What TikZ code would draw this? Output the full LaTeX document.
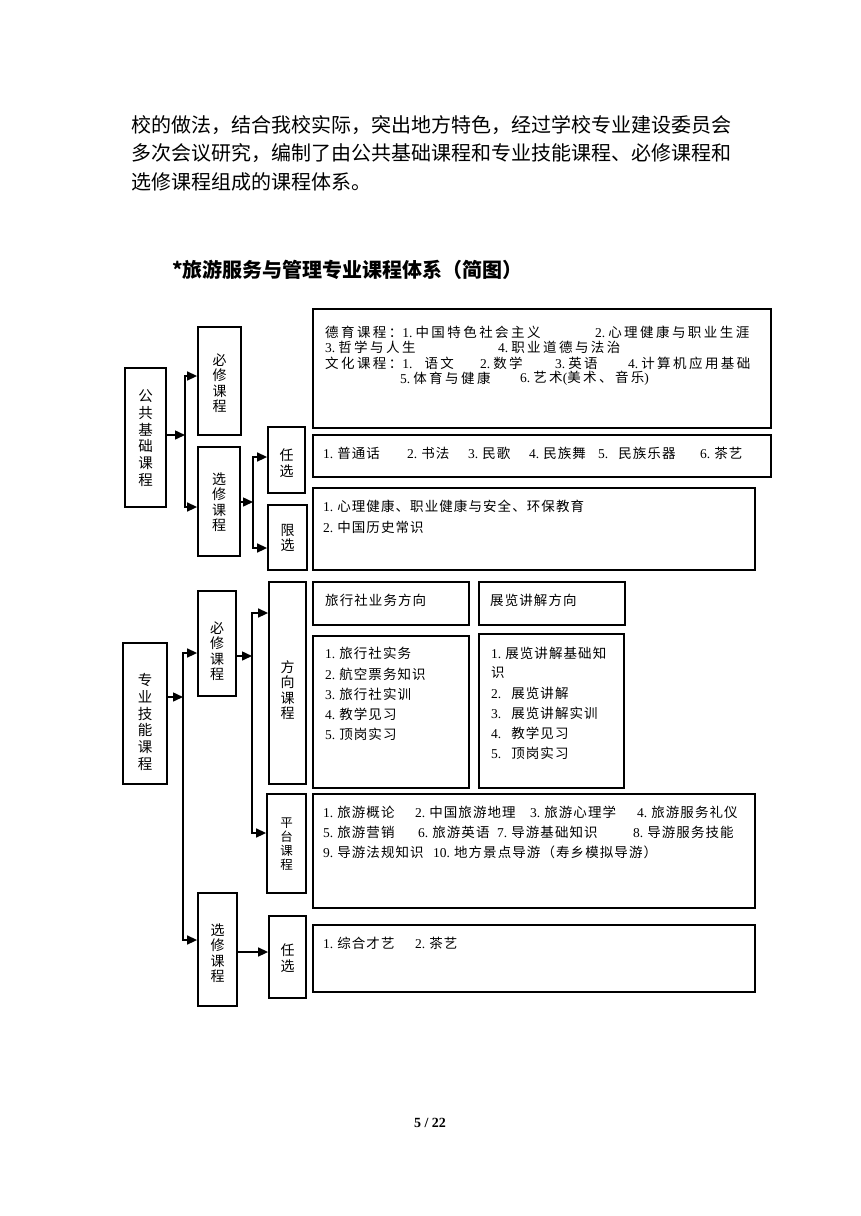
\documentclass[tikz,border=0pt]{standalone}
\usepackage{fontspec}
\setmainfont{Liberation Serif}
\newfontfamily\cjk{Noto Sans CJK SC}
\newfontfamily\cjks[LetterSpace=8]{Noto Sans CJK SC}
\newfontfamily\cjkw[LetterSpace=18]{Noto Sans CJK SC}
\newcommand\nb[2][4pt]{{\rmfamily#2}\hspace{#1}}
\usetikzlibrary{arrows.meta}
\tikzset{
  box/.style={draw, line width=1.8pt, inner sep=0pt},
  arr/.style={line width=1.5pt, -{Triangle[length=10pt,width=9pt]}},
  txt/.style={anchor=west, inner sep=0pt, font=\cjks\fontsize{13.5}{15}\selectfont},
  txtw/.style={anchor=west, inner sep=0pt, font=\cjkw\fontsize{13.5}{15}\selectfont},
  vlab/.style={align=center, inner sep=0pt, font=\cjk\fontsize{14}{15.5}\selectfont},
  vlabw/.style={align=center, inner sep=0pt, font=\cjk\fontsize{14.5}{16.7}\selectfont},
  vlabs/.style={align=center, inner sep=0pt, font=\cjk\fontsize{12.5}{14}\selectfont},
  para/.style={anchor=west, inner sep=0pt, font=\cjk\fontsize{20}{24}\selectfont}
}
\begin{document}
\begin{tikzpicture}[x=1pt,y=-1pt]
\fill[white] (0,0) rectangle (860,1216);
\useasboundingbox (0,0) rectangle (860,1216);

% paragraph
\node[para] (p1) at (131,125) {校的做法，结合我校实际，突出地方特色，经过学校专业建设委员会};
\node[para] (p2) at (131,153.5) {多次会议研究，编制了由公共基础课程和专业技能课程、必修课程和};
\node[para] (p3) at (131,182) {选修课程组成的课程体系。};
\node[anchor=west, inner sep=0pt, font=\cjk\bfseries\fontsize{20}{24}\selectfont] (title) at (172,270) {*旅游服务与管理专业课程体系（简图）};

% ---------- upper part ----------
\node[box, minimum width=41pt, minimum height=139pt] (A) at (145.5,437.5) {};
\node[box, minimum width=43pt, minimum height=108pt] (B1) at (219.5,381) {};
\node[box, minimum width=42pt, minimum height=109pt] (B2) at (219,501.5) {};
\node[box, minimum width=37pt, minimum height=66pt] (C1) at (286.5,460) {};
\node[box, minimum width=39pt, minimum height=65pt] (C2) at (287.5,537.5) {};
\node[box, minimum width=458pt, minimum height=119pt] (D1) at (542,368.5) {};
\node[box, minimum width=458pt, minimum height=42pt] (D2) at (542,456) {};
\node[box, minimum width=442pt, minimum height=82pt] (D3) at (534,529) {};

\node[vlabw] (lA) at (145.5,438) {公\\共\\基\\础\\课\\程};
\node[vlab] (lB1) at (219.5,383) {必\\修\\课\\程};
\node[vlab] (lB2) at (219,502) {选\\修\\课\\程};
\node[vlab] (lC1) at (286.5,463) {任\\选};
\node[vlab] (lC2) at (287.5,538) {限\\选};

\coordinate (jA) at (185,435);
\coordinate (jA1) at (185,376);
\coordinate (jA2) at (185,507);
\draw[arr] (jA -| A.east) -- (jA);
\draw[arr] (jA) -- (jA1) -- (jA1 -| B1.west);
\draw[arr] (jA) -- (jA2) -- (jA2 -| B2.west);

\coordinate (jB) at (253,502);
\coordinate (jB1) at (253,457);
\coordinate (jB2) at (253,548);
\draw[arr] (jB -| B2.east) -- (jB);
\draw[arr] (jB) -- (jB1) -- (jB1 -| C1.west);
\draw[arr] (jB) -- (jB2) -- (jB2 -| C2.west);

\node[txtw] (d1a) at (325,332) {德育课程：\nb[3pt]{1.}中国特色社会主义};
\node[txtw] (d1b) at (595,332) {\nb[3pt]{2.}心理健康与职业生涯};
\node[txtw] (d1c) at (325,347.5) {\nb[3pt]{3.}哲学与人生};
\node[txtw] (d1d) at (498,347.5) {\nb[3pt]{4.}职业道德与法治};
\node[txtw] (d1e) at (325,363) {文化课程：\nb[12pt]{1.}语文};
\node[txtw] (d1f) at (480,363) {\nb[3pt]{2.}数学};
\node[txtw] (d1g) at (555,363) {\nb[3pt]{3.}英语};
\node[txtw] (d1h) at (628,363) {\nb[3pt]{4.}计算机应用基础};
\node[txtw] (d1i) at (400,378) {\nb[3pt]{5.}体育与健康};
\node[txtw] (d1j) at (520,378) {\nb[3pt]{6.}艺术{\rmfamily(}美术、音乐{\rmfamily)}};

\node[txt] (d2a) at (323,453) {\nb{1.}普通话};
\node[txt] (d2b) at (407,453) {\nb{2.}书法};
\node[txt] (d2c) at (468,453) {\nb{3.}民歌};
\node[txt] (d2d) at (529,453) {\nb{4.}民族舞};
\node[txt] (d2e) at (598,453) {\nb[10pt]{5.}民族乐器};
\node[txt] (d2f) at (700,453) {\nb{6.}茶艺};

\node[txt] (d3a) at (323,506) {\nb{1.}心理健康、职业健康与安全、环保教育};
\node[txt] (d3b) at (323,527) {\nb{2.}中国历史常识};

% ---------- lower part ----------
\node[box, minimum width=44pt, minimum height=141pt] (Z) at (145,713.5) {};
\node[box, minimum width=38pt, minimum height=105pt] (E1) at (217,643.5) {};
\node[box, minimum width=39pt, minimum height=113pt] (E2) at (217.5,949.5) {};
\node[box, minimum width=37pt, minimum height=202pt] (F1) at (287.5,683) {};
\node[box, minimum width=39pt, minimum height=99pt] (F2) at (286.5,843.5) {};
\node[box, minimum width=37pt, minimum height=82pt] (F3) at (287.5,957) {};
\node[box, minimum width=156pt, minimum height=43pt] (G1) at (391,603.5) {};
\node[box, minimum width=146pt, minimum height=43pt] (G2) at (552,603.5) {};
\node[box, minimum width=156pt, minimum height=152pt] (G3) at (391,712) {};
\node[box, minimum width=145pt, minimum height=154pt] (G4) at (551.5,711) {};
\node[box, minimum width=442pt, minimum height=114pt] (G5) at (534,851) {};
\node[box, minimum width=442pt, minimum height=67pt] (G6) at (534,958.5) {};

\node[vlabw] (lZ) at (145,722) {专\\业\\技\\能\\课\\程};
\node[vlab] (lE1) at (217,651) {必\\修\\课\\程};
\node[vlab] (lE2) at (217.5,953) {选\\修\\课\\程};
\node[vlab] (lF1) at (287.5,690) {方\\向\\课\\程};
\node[vlabs] (lF2) at (286.5,844) {平\\台\\课\\程};
\node[vlab] (lF3) at (287.5,958) {任\\选};

\coordinate (jZ) at (183,697);
\coordinate (jZ1) at (183,653);
\coordinate (jZ2) at (183,940);
\draw[arr] (jZ -| Z.east) -- (jZ);
\draw[arr] (jZ) -- (jZ1) -- (jZ1 -| E1.west);
\draw[arr] (jZ) -- (jZ2) -- (jZ2 -| E2.west);

\coordinate (jE) at (252,656);
\coordinate (jE1) at (252,613);
\coordinate (jE2) at (252,833);
\draw[arr] (jE -| E1.east) -- (jE);
\draw[arr] (jE) -- (jE1) -- (jE1 -| F1.west);
\draw[arr] (jE) -- (jE2) -- (jE2 -| F2.west);

\coordinate (jF) at (237,952);
\draw[arr] (jF -| E2.east) -- (jF -| F3.west);

\node[txt] (g1) at (325,600) {旅行社业务方向};
\node[txt] (g2) at (490,600) {展览讲解方向};

\node[txt] (g3a) at (325,653) {\nb{1.}旅行社实务};
\node[txt] (g3b) at (325,674) {\nb{2.}航空票务知识};
\node[txt] (g3c) at (325,694) {\nb{3.}旅行社实训};
\node[txt] (g3d) at (325,714) {\nb{4.}教学见习};
\node[txt] (g3e) at (325,734) {\nb{5.}顶岗实习};

\node[txt] (g4a) at (491,653) {\nb{1.}展览讲解基础知};
\node[txt] (g4b) at (491,673) {识};
\node[txt] (g4c) at (491,693) {\nb[10pt]{2.}展览讲解};
\node[txt] (g4d) at (491,713) {\nb[10pt]{3.}展览讲解实训};
\node[txt] (g4e) at (491,733) {\nb[10pt]{4.}教学见习};
\node[txt] (g4f) at (491,753) {\nb[10pt]{5.}顶岗实习};

\node[txt] (g5a) at (323,812) {\nb{1.}旅游概论};
\node[txt] (g5b) at (415,812) {\nb{2.}中国旅游地理};
\node[txt] (g5c) at (530,812) {\nb{3.}旅游心理学};
\node[txt] (g5d) at (637,812) {\nb{4.}旅游服务礼仪};
\node[txt] (g5e) at (323,832) {\nb{5.}旅游营销};
\node[txt] (g5f) at (418,832) {\nb{6.}旅游英语};
\node[txt] (g5g) at (497,832) {\nb{7.}导游基础知识};
\node[txt] (g5h) at (633,832) {\nb{8.}导游服务技能};
\node[txt] (g5i) at (323,852) {\nb{9.}导游法规知识};
\node[txt] (g5j) at (433,852) {\nb{10.}地方景点导游（寿乡模拟导游）};

\node[txt] (g6a) at (323,943) {\nb{1.}综合才艺};
\node[txt] (g6b) at (415,943) {\nb{2.}茶艺};

\node[font=\bfseries\fontsize{14}{16}\selectfont, inner sep=0pt] (pg) at (430,1123) {5 / 22};
\end{tikzpicture}
\end{document}
